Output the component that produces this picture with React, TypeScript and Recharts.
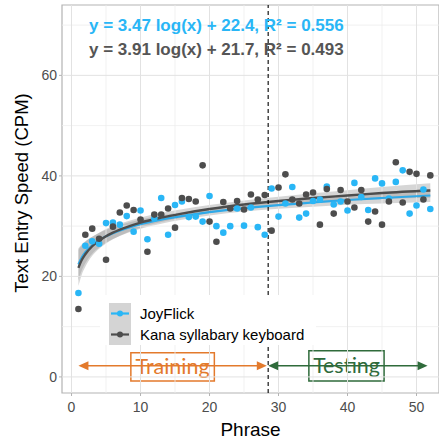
import React from "react";
import {
  ComposedChart,
  XAxis,
  YAxis,
  Scatter,
  Line,
  Area,
  ReferenceLine,
  ReferenceArea,
  Legend,
  Label,
} from "recharts";

// phrase number 1..52
const phrase = [
  1, 2, 3, 4, 5, 6, 7, 8, 9, 10, 11, 12, 13, 14, 15, 16, 17, 18, 19, 20, 21, 22, 23, 24, 25, 26,
  27, 28, 29, 30, 31, 32, 33, 34, 35, 36, 37, 38, 39, 40, 41, 42, 43, 44, 45, 46, 47, 48, 49, 50, 51, 52,
];
const joyFlick = [
  16.7, 26.1, 27.0, 26.5, 30.6, 30.7, 30.3, 32.0, 28.9, 33.1, 27.4, 31.5, 35.6, 28.3, 34.2, 34.9, 31.8,
  31.9, 30.9, 36.0, 30.0, 28.7, 30.0, 33.5, 30.1, 33.7, 29.8, 28.3, 37.5, 31.9, 34.5, 37.8, 31.7, 32.5,
  35.0, 35.3, 37.9, 34.3, 34.9, 33.1, 38.6, 35.8, 33.2, 39.5, 38.5, 35.5, 38.8, 41.1, 32.5, 34.1, 37.3, 33.4,
];
const kana = [
  13.5, 28.3, 29.5, 27.5, 23.3, 29.9, 32.7, 34.1, 33.2, 31.3, 24.9, 32.3, 32.3, 33.5, 29.7, 35.6, 35.4,
  34.9, 42.1, 30.9, 26.9, 34.8, 33.5, 35.0, 33.3, 36.3, 35.3, 36.2, 29.1, 37.7, 40.3, 35.3, 34.5, 36.3,
  36.7, 30.3, 37.4, 32.5, 37.2, 34.9, 33.7, 37.2, 30.9, 32.9, 30.3, 34.9, 42.7, 34.7, 40.8, 40.4, 35.3, 40.1,
];

// fitted log curves and their confidence half-widths
const fitX = [1, 1.5, 2, 3, 4, 5, 6, 8, 10, 13, 16, 20, 25, 30, 35, 40, 45, 52];
const joyFit = [22.4, 23.8, 24.8, 26.2, 27.2, 28.0, 28.6, 29.6, 30.4, 31.3, 32.0, 32.8, 33.6, 34.2, 34.7, 35.2, 35.6, 36.1];
const joySe = [3.2, 2.6, 2.2, 1.7, 1.45, 1.3, 1.15, 1.0, 0.9, 0.8, 0.75, 0.7, 0.7, 0.75, 0.85, 0.95, 1.1, 1.3];
const kanaFit = [21.7, 23.3, 24.4, 26.0, 27.1, 28.0, 28.7, 29.8, 30.7, 31.7, 32.5, 33.4, 34.3, 35.0, 35.6, 36.1, 36.6, 37.1];
const kanaSe = [3.6, 2.9, 2.5, 1.9, 1.6, 1.45, 1.3, 1.1, 1.0, 0.9, 0.85, 0.8, 0.8, 0.85, 0.95, 1.05, 1.2, 1.45];

const xTicks = [0, 10, 20, 30, 40, 50];
const yTicks = [0, 20, 40, 60];
const xMajor = [0, 10, 20, 30, 40, 50];
const xMinor = [5, 15, 25, 35, 45];
const yMajor = [0, 20, 40, 60];
const yMinor = [10, 30, 50, 70];

const seriesNames = ["JoyFlick", "Kana syllabary keyboard"];
const equations = ["y = 3.47 log(x) + 22.4, R\u00b2 = 0.556", "y = 3.91 log(x) + 21.7, R\u00b2 = 0.493"];
const phaseSplit = 28.5;

const BLUE = "#29b6f6";
const DARK = "#4d4d4d";
const ORANGE = "#e37a2c";
const GREEN = "#2f6b3b";
const FONT = "'Liberation Sans', Arial, sans-serif";

const X_DOMAIN: [number, number] = [-1.38, 53.26];
const Y_DOMAIN: [number, number] = [-3.2, 74];

const joyPts = phrase.map((x, i) => ({ x, y: joyFlick[i] }));
const kanaPts = phrase.map((x, i) => ({ x, y: kana[i] }));
const fitData = fitX.map((x, i) => ({
  x,
  jFit: joyFit[i],
  jBand: [joyFit[i] - joySe[i], joyFit[i] + joySe[i]],
  kFit: kanaFit[i],
  kBand: [kanaFit[i] - kanaSe[i], kanaFit[i] + kanaSe[i]],
}));

const dot = (color: string) => (p: any) => <circle cx={p.cx} cy={p.cy} r={3.3} fill={color} />;

function arrowShape(color: string, startHead: boolean, endHead: boolean) {
  return (p: any) => {
    const { x1, y1, x2, y2 } = p;
    const L = 10;
    const W = 4.5;
    return (
      <g>
        <line x1={x1 + (startHead ? 4 : 0)} y1={y1} x2={x2 - (endHead ? 4 : 0)} y2={y2} stroke={color} strokeWidth={1.5} />
        {startHead && <polygon points={`${x1},${y1} ${x1 + L},${y1 - W} ${x1 + L},${y1 + W}`} fill={color} />}
        {endHead && <polygon points={`${x2},${y2} ${x2 - L},${y2 - W} ${x2 - L},${y2 + W}`} fill={color} />}
      </g>
    );
  };
}

function boxLabel(text: string, color: string, len: number) {
  return (p: any) => {
    const vb = p.viewBox;
    return (
      <text
        x={vb.x + vb.width / 2}
        y={vb.y + vb.height / 2 + 7.5}
        textAnchor="middle"
        fill={color}
        fontSize={22}
        fontFamily="Lato, 'Open Sans', sans-serif"
        textLength={len}
        lengthAdjust="spacingAndGlyphs"
      >
        {text}
      </text>
    );
  };
}

function renderLegend() {
  const colors = [BLUE, DARK];
  return (
    <div style={{ position: "relative", width: 216, height: 50, background: "#fff", fontFamily: FONT }}>
      <div style={{ position: "absolute", left: 9, top: 8, width: 22, height: 42, background: "#d4d4d4" }} />
      {seriesNames.map((n, i) => (
        <div key={n} style={{ position: "absolute", left: 0, top: 8 + i * 21, height: 21, width: 216 }}>
          <svg width={40} height={21} style={{ position: "absolute", left: 0, top: 0 }}>
            <line x1={11} x2={29} y1={10.5} y2={10.5} stroke={colors[i]} strokeWidth={2.2} />
            <circle cx={20} cy={10.5} r={3} fill={colors[i]} />
          </svg>
          <span style={{ position: "absolute", left: 40, top: 1, fontSize: 15, lineHeight: "19px", color: "#000" }}>{n}</span>
        </div>
      ))}
    </div>
  );
}

export default function App() {
  return (
    <div style={{ position: "absolute", left: 0, top: 0, width: 439, height: 440, background: "#fff" }}>
      <ComposedChart
        width={439}
        height={440}
        data={fitData}
        margin={{ top: 5, right: 0, bottom: 0, left: 0 }}
      >
        <XAxis
          type="number"
          dataKey="x"
          domain={X_DOMAIN}
          ticks={xTicks}
          allowDataOverflow
          height={47}
          axisLine={false}
          tickLine={{ stroke: "#b3b3b3" }}
          tickSize={3}
          tickMargin={6}
          tick={{ fill: DARK, fontSize: 14, fontFamily: FONT }}
        >
          <Label value="Phrase" position="insideBottom" offset={4} fill="#000" fontSize={19} fontFamily={FONT} />
        </XAxis>
        <YAxis
          type="number"
          dataKey="y"
          domain={Y_DOMAIN}
          ticks={yTicks}
          allowDataOverflow
          width={62}
          axisLine={false}
          tickLine={{ stroke: "#b3b3b3" }}
          tickSize={3}
          tickMargin={2}
          tick={{ fill: DARK, fontSize: 14, fontFamily: FONT }}
        >
          <Label
            content={(p: any) => {
              const vb = p.viewBox;
              const cx = vb.x + 21;
              const cy = vb.y + vb.height / 2 - 6;
              return (
                <text
                  x={cx}
                  y={cy}
                  transform={`rotate(-90 ${cx} ${cy})`}
                  textAnchor="middle"
                  dominantBaseline="central"
                  fontSize={18.5}
                  fontFamily={FONT}
                  fill="#000"
                >
                  Text Entry Speed (CPM)
                </text>
              );
            }}
          />
        </YAxis>

        {yMinor.map((v) => (
          <ReferenceLine key={"ym" + v} y={v} stroke="#eeeeee" strokeWidth={0.8} />
        ))}
        {xMinor.map((v) => (
          <ReferenceLine key={"xm" + v} x={v} stroke="#eeeeee" strokeWidth={0.8} />
        ))}
        {yMajor.map((v) => (
          <ReferenceLine key={"yM" + v} y={v} stroke="#e2e2e2" strokeWidth={1} />
        ))}
        {xMajor.map((v) => (
          <ReferenceLine key={"xM" + v} x={v} stroke="#e2e2e2" strokeWidth={1} />
        ))}

        <Scatter name={seriesNames[0]} data={joyPts} shape={dot(BLUE)} isAnimationActive={false} legendType="none" />
        <Scatter name={seriesNames[1]} data={kanaPts} shape={dot(DARK)} isAnimationActive={false} legendType="none" />

        <Area dataKey="jBand" type="monotone" fill="#999999" fillOpacity={0.4} stroke="none" isAnimationActive={false} legendType="none" />
        <Line dataKey="jFit" type="monotone" stroke="#2ea9e8" strokeWidth={2.2} dot={false} isAnimationActive={false} legendType="none" />
        <Area dataKey="kBand" type="monotone" fill="#999999" fillOpacity={0.4} stroke="none" isAnimationActive={false} legendType="none" />
        <Line dataKey="kFit" type="monotone" stroke={DARK} strokeWidth={2.4} dot={false} isAnimationActive={false} legendType="none" />

        <ReferenceLine x={phaseSplit} stroke="#000" strokeWidth={1.1} strokeDasharray="4 3" />

        <ReferenceLine
          segment={[{ x: 1, y: 2.2 }, { x: 28.3, y: 2.2 }]}
          shape={arrowShape(ORANGE, true, true)}
        />
        <ReferenceLine
          segment={[{ x: 28.5, y: 2.2 }, { x: 51.6, y: 2.2 }]}
          shape={arrowShape(GREEN, true, true)}
        />
        <ReferenceArea
          x1={8.6}
          x2={20.7}
          y1={-0.8}
          y2={4.8}
          fill="#fff"
          fillOpacity={1}
          stroke={ORANGE}
          strokeWidth={1.5}
          label={boxLabel("Training", ORANGE, 74)}
        />
        <ReferenceArea
          x1={34.4}
          x2={45.3}
          y1={-0.8}
          y2={5.2}
          fill="#fff"
          fillOpacity={1}
          stroke={GREEN}
          strokeWidth={1.5}
          label={boxLabel("Testing", GREEN, 67)}
        />

        <ReferenceArea
          x1={X_DOMAIN[0]}
          x2={X_DOMAIN[1]}
          y1={Y_DOMAIN[0]}
          y2={Y_DOMAIN[1]}
          fill="none"
          stroke="#b3b3b3"
          strokeWidth={1.2}
        />

        <Legend
          layout="vertical"
          align="center"
          verticalAlign="middle"
          content={renderLegend}
          wrapperStyle={{ position: "absolute", left: 100, top: 295, width: 216, height: 50 }}
        />
      </ComposedChart>
      <svg width={439} height={70} style={{ position: "absolute", left: 0, top: 0, pointerEvents: "none" }}>
        <text x={89} y={31} fill={BLUE} fontSize={17} fontWeight="bold" fontFamily={FONT}>
          {equations[0]}
        </text>
        <text x={89} y={55} fill="#555555" fontSize={17} fontWeight="bold" fontFamily={FONT}>
          {equations[1]}
        </text>
      </svg>
    </div>
  );
}
